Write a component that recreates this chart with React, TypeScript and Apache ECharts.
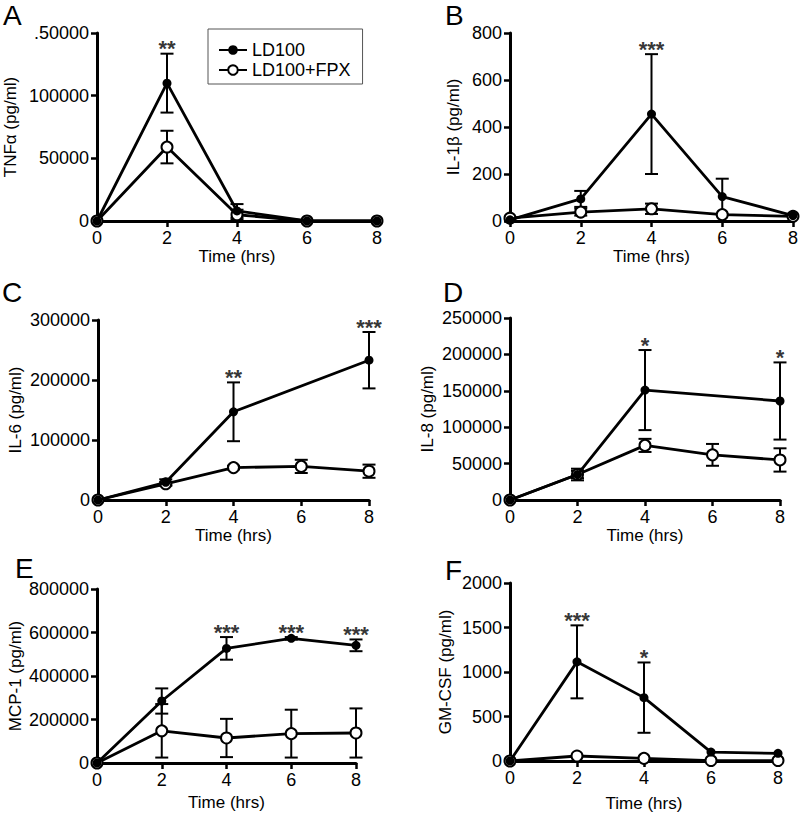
import React, { useEffect, useRef } from "react";
import * as echarts from "echarts";

const timeHrs = [0, 2, 4, 6, 8];
const seriesNames = ["LD100", "LD100+FPX"];

// A: TNFα
const tnfLD = [0, 110000, 8000, 0, 0];
const tnfLDErr = [0, 23500, 5500, 0, 0];
const tnfFPX = [0, 59000, 5000, 0, 0];
const tnfFPXErr = [0, 13000, 4000, 0, 0];
const tnfStars = ["", "**", "", "", ""];
const tnfTickLabels = ["0", "50000", "100000", ".50000"];

// B: IL-1β
const il1bLD = [5, 94, 455, 104, 23];
const il1bLDErr = [0, 34, 255, 76, 0];
const il1bFPX = [12, 38, 52, 27, 20];
const il1bFPXErr = [0, 15, 22, 0, 0];
const il1bStars = ["", "", "***", "", ""];
const il1bTickLabels = ["0", "200", "400", "600", "800"];

// C: IL-6
const il6LD = [0, 29500, 147000, null, 233000];
const il6LDErr = [0, 5000, 49000, 0, 47000];
const il6FPX = [0, 27000, 54000, 56000, 48000];
const il6FPXErr = [0, 3000, 3000, 11000, 11000];
const il6Stars = ["", "", "**", "", "***"];
const il6TickLabels = ["0", "100000", "200000", "300000"];

// D: IL-8
const il8LD = [0, 35000, 151000, null, 136000];
const il8LDErr = [0, 8000, 55000, 0, 53000];
const il8FPX = [0, 35000, 75000, 62000, 55000];
const il8FPXErr = [0, 5000, 9000, 15000, 16000];
const il8Stars = ["", "", "*", "", "*"];
const il8TickLabels = ["0", "50000", "100000", "150000", "200000", "250000"];

// E: MCP-1
const mcpLD = [0, 285000, 527000, 573000, 541000];
const mcpLDErr = [0, 58000, 52000, 6000, 27000];
const mcpFPX = [0, 148000, 115000, 135000, 138000];
const mcpFPXErr = [0, 123000, 88000, 110000, 113000];
const mcpStars = ["", "", "***", "***", "***"];
const mcpTickLabels = ["0", "200000", "400000", "600000", "800000"];

// F: GM-CSF
const gmLD = [0, 1114, 712, 100, 86];
const gmLDErr = [0, 410, 395, 0, 0];
const gmFPX = [0, 56, 30, 5, 5];
const gmFPXErr = [0, 0, 0, 0, 0];
const gmStars = ["", "***", "*", "", ""];
const gmTickLabels = ["0", "500", "1000", "1500", "2000"];

const xTickLabels = ["0", "2", "4", "6", "8"];

const panels = [
  { letter: "A", yName: "TNFα (pg/ml)", yMax: 150000, yInterval: 50000, ld: tnfLD, ldErr: tnfLDErr, fpx: tnfFPX, fpxErr: tnfFPXErr, stars: tnfStars, yTicks: tnfTickLabels },
  { letter: "B", yName: "IL-1β (pg/ml)", yMax: 800, yInterval: 200, ld: il1bLD, ldErr: il1bLDErr, fpx: il1bFPX, fpxErr: il1bFPXErr, stars: il1bStars, yTicks: il1bTickLabels },
  { letter: "C", yName: "IL-6 (pg/ml)", yMax: 300000, yInterval: 100000, ld: il6LD, ldErr: il6LDErr, fpx: il6FPX, fpxErr: il6FPXErr, stars: il6Stars, yTicks: il6TickLabels },
  { letter: "D", yName: "IL-8 (pg/ml)", yMax: 250000, yInterval: 50000, ld: il8LD, ldErr: il8LDErr, fpx: il8FPX, fpxErr: il8FPXErr, stars: il8Stars, yTicks: il8TickLabels },
  { letter: "E", yName: "MCP-1 (pg/ml)", yMax: 800000, yInterval: 200000, ld: mcpLD, ldErr: mcpLDErr, fpx: mcpFPX, fpxErr: mcpFPXErr, stars: mcpStars, yTicks: mcpTickLabels },
  { letter: "F", yName: "GM-CSF (pg/ml)", yMax: 2000, yInterval: 500, ld: gmLD, ldErr: gmLDErr, fpx: gmFPX, fpxErr: gmFPXErr, stars: gmStars, yTicks: gmTickLabels },
];

// layout (pixels)
const layouts = [
  { left: 97, top: 33, width: 280, height: 188, yGap: 78, xGap: 23, lx: 3, ly: 15 },
  { left: 510, top: 33, width: 283, height: 188, yGap: 48, xGap: 18, lx: 445, ly: 15 },
  { left: 98, top: 320, width: 271, height: 180, yGap: 74, xGap: 26, lx: 2, ly: 292 },
  { left: 510, top: 318, width: 270, height: 182, yGap: 74, xGap: 26, lx: 443, ly: 292 },
  { left: 97, top: 589, width: 259, height: 174, yGap: 73, xGap: 31, lx: 15, ly: 568 },
  { left: 510, top: 583, width: 268, height: 178, yGap: 56, xGap: 34, lx: 445, ly: 570 },
];

const FONT = "Liberation Sans, Arial, Helvetica, sans-serif";

function errorSeries(gi: number, vals: (number | null)[], errs: number[], name: string) {
  const data: number[][] = [];
  vals.forEach((v, k) => {
    if (v != null && errs[k] > 0) data.push([timeHrs[k], v - errs[k], v + errs[k]]);
  });
  return {
    type: "custom",
    name: name + " err",
    xAxisIndex: gi,
    yAxisIndex: gi,
    z: 1,
    silent: true,
    encode: { x: 0, y: [1, 2] },
    renderItem: (_params: any, api: any) => {
      const x = api.value(0);
      const p1 = api.coord([x, api.value(1)]);
      const p2 = api.coord([x, api.value(2)]);
      const w = 6.5;
      const st = { stroke: "#000", lineWidth: 2, fill: "none" };
      return {
        type: "group",
        children: [
          { type: "line", shape: { x1: p1[0], y1: p1[1], x2: p2[0], y2: p2[1] }, style: st },
          { type: "line", shape: { x1: p1[0] - w, y1: p1[1], x2: p1[0] + w, y2: p1[1] }, style: st },
          { type: "line", shape: { x1: p2[0] - w, y1: p2[1], x2: p2[0] + w, y2: p2[1] }, style: st },
        ],
      };
    },
    data,
  };
}

function buildOption() {
  const grid: any[] = [];
  const xAxis: any[] = [];
  const yAxis: any[] = [];
  const series: any[] = [];
  const graphic: any[] = [];

  panels.forEach((p, i) => {
    const L = layouts[i];
    grid.push({ left: L.left, top: L.top, width: L.width, height: L.height, outerBoundsMode: "none", containLabel: false });
    const axisLine = { show: true, onZero: false, lineStyle: { color: "#000", width: 3 } };
    const axisTick = { show: true, length: 6, lineStyle: { color: "#000", width: 2.5 } };
    xAxis.push({
      gridIndex: i,
      type: "value",
      min: 0,
      max: 8,
      interval: 2,
      name: "Time (hrs)",
      nameLocation: "middle",
      nameGap: L.xGap,
      nameTextStyle: { fontSize: 17, color: "#000", fontFamily: FONT },
      axisLine,
      axisTick,
      splitLine: { show: false },
      axisLabel: {
        fontSize: 18,
        color: "#000",
        fontFamily: FONT,
        margin: 8,
        formatter: (v: number) => xTickLabels[timeHrs.indexOf(v)] ?? String(v),
      },
    });
    yAxis.push({
      gridIndex: i,
      type: "value",
      min: 0,
      max: p.yMax,
      interval: p.yInterval,
      name: p.yName,
      nameLocation: "middle",
      nameGap: L.yGap,
      nameTextStyle: { fontSize: 17, color: "#000", fontFamily: FONT },
      axisLine,
      axisTick,
      splitLine: { show: false },
      axisLabel: {
        fontSize: 18,
        color: "#000",
        fontFamily: FONT,
        margin: 8,
        formatter: (v: number) => p.yTicks[Math.round(v / p.yInterval)] ?? String(v),
      },
    });

    series.push(errorSeries(i, p.fpx, p.fpxErr, seriesNames[1]));
    series.push(errorSeries(i, p.ld, p.ldErr, seriesNames[0]));
    series.push({
      type: "line",
      name: seriesNames[1],
      xAxisIndex: i,
      yAxisIndex: i,
      z: 3,
      clip: false,
      connectNulls: true,
      symbol: "circle",
      symbolSize: 11,
      showSymbol: true,
      lineStyle: { color: "#000", width: 2.8 },
      itemStyle: { color: "#fff", borderColor: "#000", borderWidth: 2 },
      data: timeHrs.map((t, k) => [t, p.fpx[k]]),
    });
    series.push({
      type: "line",
      name: seriesNames[0],
      xAxisIndex: i,
      yAxisIndex: i,
      z: 4,
      clip: false,
      connectNulls: true,
      symbol: "circle",
      symbolSize: 9,
      showSymbol: true,
      lineStyle: { color: "#000", width: 2.8 },
      itemStyle: { color: "#000", borderColor: "#000", borderWidth: 0 },
      data: timeHrs
        .map((t, k) => (p.ld[k] == null ? null : [t, p.ld[k]]))
        .filter((d) => d !== null),
    });
    const starData: any[] = [];
    p.stars.forEach((s, k) => {
      if (s) {
        const v = p.ld[k] as number;
        starData.push({ name: s, value: [timeHrs[k], v + p.ldErr[k]] });
      }
    });
    series.push({
      type: "scatter",
      name: "stars",
      xAxisIndex: i,
      yAxisIndex: i,
      z: 5,
      silent: true,
      clip: false,
      symbol: "circle",
      symbolSize: 2,
      itemStyle: { color: "rgba(0,0,0,0)" },
      label: {
        show: true,
        position: "top",
        distance: -7,
        formatter: "{b}",
        fontSize: 22,
        fontWeight: "bold",
        color: "#000",
        fontFamily: FONT,
      },
      labelLayout: { hideOverlap: false },
      data: starData,
    });

    graphic.push({
      type: "text",
      x: L.lx,
      y: L.ly,
      style: {
        text: p.letter,
        fontSize: 28,
        fontFamily: FONT,
        fill: "#000",
        textAlign: "left",
        textVerticalAlign: "middle",
      },
    });
  });

  return {
    animation: false,
    backgroundColor: "#fff",
    textStyle: { fontFamily: FONT },
    legend: {
      data: seriesNames,
      orient: "vertical",
      left: 208,
      top: 29,
      itemWidth: 28,
      itemHeight: 12,
      itemGap: 2,
      padding: [12, 12, 5, 10],
      borderColor: "#555",
      borderWidth: 1,
      backgroundColor: "#fff",
      selectedMode: false,
      textStyle: { fontSize: 18, color: "#000", fontFamily: FONT },
    },
    grid,
    xAxis,
    yAxis,
    series,
    graphic,
  };
}

export default function App() {
  const ref = useRef<HTMLDivElement>(null);
  useEffect(() => {
    document.body.style.margin = "0";
    if (!ref.current) return;
    const chart = echarts.init(ref.current, undefined, { renderer: "svg" });
    chart.setOption(buildOption() as any);
    return () => chart.dispose();
  }, []);
  return <div ref={ref} style={{ width: 800, height: 816 }} />;
}
